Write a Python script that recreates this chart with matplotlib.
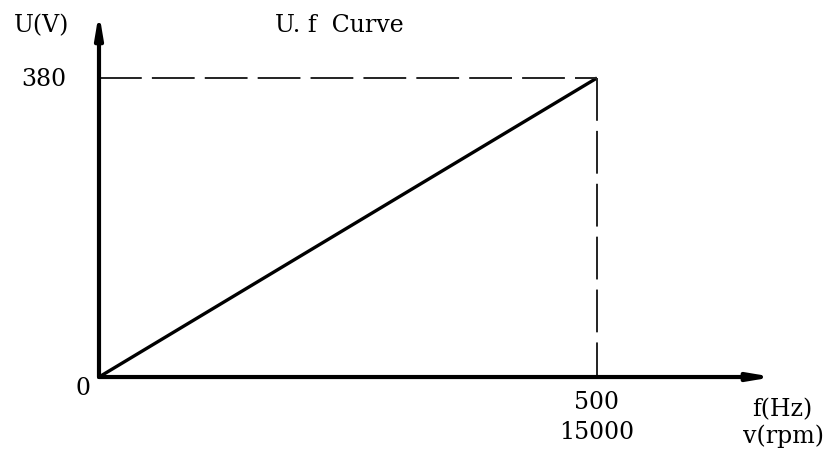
import matplotlib.pyplot as plt

# data
freq = [0, 500]        # Hz
volt = [0, 380]        # V
speed = [0, 15000]     # rpm
x_ticks = ['500', '15000']
y_ticks = ['0', '380']

plt.rcParams['font.family'] = ['DejaVu Serif']

fig = plt.figure(figsize=(8.34, 4.55), dpi=100)
ax = fig.add_axes([0, 0, 1, 1])
ax.set_xlim(-99.4, 738)
ax.set_ylim(-99.1, 479.1)
ax.axis('off')

fmax = freq[-1]
umax = volt[-1]

# axes with arrows
ax.annotate('', xy=(677, 0), xytext=(0, 0),
            arrowprops=dict(arrowstyle='-|>,head_length=1.3,head_width=0.22', lw=3, color='black',
                            shrinkA=0, shrinkB=0))
ax.annotate('', xy=(0, 463), xytext=(0, 0),
            arrowprops=dict(arrowstyle='-|>,head_length=1.3,head_width=0.22', lw=3, color='black',
                            shrinkA=0, shrinkB=0))

# U/f line
ax.plot(freq, volt, color='black', lw=2.4, solid_capstyle='butt')

# dashed guides
ax.plot([0, fmax], [umax, umax], color='#222222', lw=1.4, dashes=(22, 5.2))
ax.plot([fmax, fmax], [umax, 0], color='#222222', lw=1.4, dashes=(22, 5.2))

fs = 17
ax.text(-16, -14, y_ticks[0], fontsize=fs, ha='center', va='center')
ax.text(-55, umax - 2, y_ticks[1], fontsize=fs, ha='center', va='center')
ax.text(fmax, -33, x_ticks[0], fontsize=fs, ha='center', va='center')
ax.text(fmax, -70, x_ticks[1], fontsize=fs, ha='center', va='center')
ax.text(-58, 447, 'U(V)', fontsize=fs, ha='center', va='center')
ax.text(241, 447, 'U. f  Curve', fontsize=fs, ha='center', va='center')
ax.text(686, -42, 'f(Hz)', fontsize=fs, ha='center', va='center')
ax.text(687, -75, 'v(rpm)', fontsize=fs, ha='center', va='center')

fig.savefig('out.png', dpi=100)
